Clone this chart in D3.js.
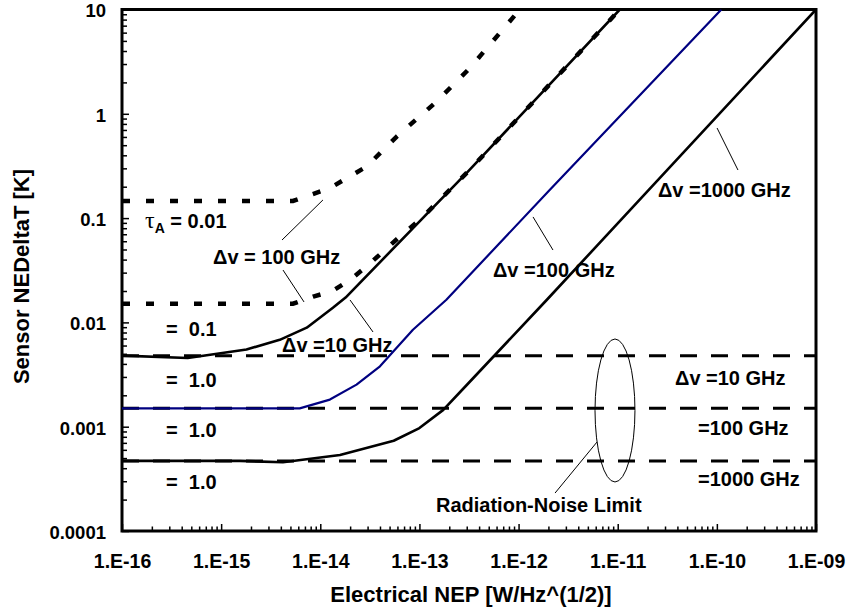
<!DOCTYPE html>
<html>
<head>
<meta charset="utf-8">
<script src="https://cdn.jsdelivr.net/npm/d3@7"></script>
<style>
  body { margin: 0; background: #fff; }
  svg text { font-family: "Liberation Sans", Arial, Helvetica, sans-serif; font-weight: bold; fill: #000; }
</style>
</head>
<body>
<svg id="chart" width="849" height="614"></svg>
<script>
// Electrical NEP sample points [W/Hz^(1/2)] and resulting sensor NEΔT [K]
// Δv = 10 GHz, τA = 1.0
const nep10 = [1e-16, 4.6e-16, 1.8e-15, 3.9e-15, 7.3e-15, 1.34e-14, 1.8e-14, 3.1e-13, 1.05e-11];
const ndt10 = [0.0048, 0.00455, 0.0055, 0.0068, 0.0089, 0.0138, 0.0173, 0.28, 10];
// Δv = 100 GHz, τA = 1.0
const nep100 = [1e-16, 6.2e-15, 1.25e-14, 2.32e-14, 4.0e-14, 8.6e-14, 1.87e-13, 2.07e-12, 1.11e-10];
const ndt100 = [0.0015, 0.0015, 0.00182, 0.00253, 0.00379, 0.0085, 0.0165, 0.187, 10];
// Δv = 1000 GHz, τA = 1.0
const nep1000 = [1e-16, 1.55e-15, 4.2e-15, 1.58e-14, 5.5e-14, 1.0e-13, 1.74e-13, 3.0e-13, 1.92e-12, 1e-9];
const ndt1000 = [0.00047, 0.00047, 0.000456, 0.000535, 0.000734, 0.00097, 0.00145, 0.00251, 0.0164, 10];
// Δv = 100 GHz, τA = 0.01
const nepTau001 = [1e-16, 5.3e-15, 1.25e-14, 2.93e-14, 5.9e-14, 1.49e-13, 3.22e-13, 1.03e-12];
const ndtTau001 = [0.146, 0.146, 0.194, 0.312, 0.605, 1.31, 2.74, 10];
// Δv = 100 GHz, τA = 0.1
const nepTau01 = [1e-16, 5.3e-15, 8.5e-15, 1.3e-14, 2.0e-14, 2.93e-14, 6.1e-14, 1.01e-13, 3.1e-13, 1.05e-11];
const ndtTau01 = [0.0151, 0.0151, 0.0177, 0.0198, 0.0256, 0.0344, 0.0643, 0.0963, 0.28, 10];
// Radiation-noise limits for Δv = 10, 100, 1000 GHz
const radiationLimits = [0.0048, 0.0015, 0.00047];

const xTickValues = [1e-16, 1e-15, 1e-14, 1e-13, 1e-12, 1e-11, 1e-10, 1e-9];
const xTickLabels = ["1.E-16", "1.E-15", "1.E-14", "1.E-13", "1.E-12", "1.E-11", "1.E-10", "1.E-09"];
const yTickValues = [1e-4, 1e-3, 1e-2, 1e-1, 1, 10];
const yTickLabels = ["0.0001", "0.001", "0.01", "0.1", "1", "10"];

const svg = d3.select("#chart");
const plotLeft = 122, plotRight = 816, plotTop = 9.5, plotBottom = 531;

const x = d3.scaleLog().domain([1e-16, 1e-9]).range([plotLeft, plotRight]);
const y = d3.scaleLog().domain([1e-4, 10]).range([plotBottom, plotTop]);
// place things by decade exponents
const px = e => x(Math.pow(10, e));
const py = e => y(Math.pow(10, e));

svg.append("defs").append("clipPath").attr("id", "plotClip")
  .append("rect").attr("x", plotLeft).attr("y", plotTop)
  .attr("width", plotRight - plotLeft).attr("height", plotBottom - plotTop);

// ---- axes ----
const minorX = x.ticks().filter(v => !xTickValues.some(t => Math.abs(t - v) / t < 1e-6));
const minorY = y.ticks().filter(v => !yTickValues.some(t => Math.abs(t - v) / t < 1e-6));

const xMinor = svg.append("g").attr("transform", `translate(0,${plotBottom})`)
  .call(d3.axisBottom(x).tickValues(minorX).tickSize(-4.5).tickFormat(""));
const xMajor = svg.append("g").attr("transform", `translate(0,${plotBottom})`)
  .call(d3.axisBottom(x).tickValues(xTickValues).tickSize(-7).tickPadding(23)
    .tickFormat((d, i) => xTickLabels[i]));
const yMinor = svg.append("g").attr("transform", `translate(${plotLeft},0)`)
  .call(d3.axisLeft(y).tickValues(minorY).tickSize(-5).tickFormat(""));
const yMajor = svg.append("g").attr("transform", `translate(${plotLeft},0)`)
  .call(d3.axisLeft(y).tickValues(yTickValues).tickSize(-7).tickPadding(16)
    .tickFormat((d, i) => yTickLabels[i]));

[xMinor, xMajor, yMinor, yMajor].forEach(g => {
  g.select(".domain").remove();
  g.selectAll(".tick line").attr("stroke", "#000").attr("stroke-width", 1.5);
  g.selectAll(".tick text").attr("fill", "#000");
});
xMajor.selectAll(".tick text").style("font-size", "19.5px");
yMajor.selectAll(".tick text").style("font-size", "18.5px").attr("dy", "0.4em");

// frame
svg.append("rect").attr("x", plotLeft).attr("y", plotTop)
  .attr("width", plotRight - plotLeft).attr("height", plotBottom - plotTop)
  .attr("fill", "none").attr("stroke", "#000").attr("stroke-width", 3);

// axis titles
svg.append("text").attr("x", (plotLeft + plotRight) / 2 + 2).attr("y", 601.7)
  .attr("text-anchor", "middle").style("font-size", "22px")
  .text("Electrical NEP [W/Hz^(1/2)]");
svg.append("text").attr("transform", "translate(29,276.5) rotate(-90)")
  .attr("text-anchor", "middle").style("font-size", "22px")
  .text("Sensor NEDeltaT [K]");

// ---- curves ----
const plot = svg.append("g").attr("clip-path", "url(#plotClip)");
const line = d3.line().x(d => x(d[0])).y(d => y(d[1]));
const zipPts = (a, b) => a.map((v, i) => [v, b[i]]);

// radiation-noise limits
plot.selectAll("path.rad").data(radiationLimits).join("path")
  .attr("class", "rad")
  .attr("d", v => line([[1e-16, v], [1e-9, v]]))
  .attr("fill", "none").attr("stroke", "#000").attr("stroke-width", 3)
  .attr("stroke-dasharray", "17,14");

const solid = [
  { pts: zipPts(nep10, ndt10), color: "#000", w: 2.6 },
  { pts: zipPts(nep100, ndt100), color: "#000080", w: 2.2 },
  { pts: zipPts(nep1000, ndt1000), color: "#000", w: 2.6 }
];
plot.selectAll("path.solid").data(solid).join("path")
  .attr("class", "solid")
  .attr("d", d => line(d.pts))
  .attr("fill", "none").attr("stroke", d => d.color).attr("stroke-width", d => d.w)
  .attr("stroke-linejoin", "round");

const dotted = [zipPts(nepTau001, ndtTau001), zipPts(nepTau01, ndtTau01)];
plot.selectAll("path.dot").data(dotted).join("path")
  .attr("class", "dot")
  .attr("d", d => line(d))
  .attr("fill", "none").attr("stroke", "#000").attr("stroke-width", 4.5)
  .attr("stroke-dasharray", "8,16");

// ---- annotations (anchored by decade exponents of NEP and NEΔT) ----
const notes = [
  { t: "Δv = 100 GHz", at: [-15.082, -1.440] },
  { t: "=  0.1", at: [-15.556, -2.126] },
  { t: "=  1.0", at: [-15.556, -2.617] },
  { t: "=  1.0", at: [-15.556, -3.099] },
  { t: "=  1.0", at: [-15.556, -3.597] },
  { t: "Δv =10 GHz", at: [-14.386, -2.281] },
  { t: "Δv =100 GHz", at: [-12.258, -1.562] },
  { t: "Δv =1000 GHz", at: [-10.594, -0.795] },
  { t: "Δv =10 GHz", at: [-10.422, -2.600] },
  { t: "=100 GHz", at: [-10.190, -3.080] },
  { t: "=1000 GHz", at: [-10.190, -3.569] },
  { t: "Radiation-Noise Limit", at: [-12.833, -3.821] }
];
svg.append("g").selectAll("text").data(notes).join("text")
  .attr("x", d => px(d.at[0])).attr("y", d => py(d.at[1]))
  .style("font-size", "20px").style("white-space", "pre")
  .text(d => d.t);

// τA = 0.01 label
const tau = svg.append("text").attr("x", px(-15.768)).attr("y", py(-1.095))
  .style("font-size", "20px").style("white-space", "pre");
tau.append("tspan").text("τ")
  .style("font-family", "'Liberation Serif', 'Times New Roman', serif")
  .style("font-weight", "normal").style("font-size", "24px");
tau.append("tspan").text("A").attr("dy", 5).style("font-size", "14px");
tau.append("tspan").text(" = 0.01").attr("dy", -5);

// leader lines
const leaders = [
  [[-14.386, -1.210], [-13.973, -0.826]],
  [[-14.376, -1.498], [-14.164, -1.804]],
  [[-13.700, -1.785], [-13.468, -2.092]],
  [[-11.854, -0.989], [-11.653, -1.306]],
  [[-9.998, -0.136], [-9.787, -0.539]],
  [[-11.632, -3.636], [-11.209, -3.147]]
];
svg.append("g").selectAll("line").data(leaders).join("line")
  .attr("x1", d => px(d[0][0])).attr("y1", d => py(d[0][1]))
  .attr("x2", d => px(d[1][0])).attr("y2", d => py(d[1][1]))
  .attr("stroke", "#000").attr("stroke-width", 1);

// ellipse grouping the radiation-noise limits
const ex0 = -11.229, ex1 = -10.826, ey0 = -2.159, ey1 = -3.530;
svg.append("ellipse")
  .attr("cx", (px(ex0) + px(ex1)) / 2).attr("cy", (py(ey0) + py(ey1)) / 2)
  .attr("rx", (px(ex1) - px(ex0)) / 2).attr("ry", (py(ey1) - py(ey0)) / 2)
  .attr("fill", "none").attr("stroke", "#000").attr("stroke-width", 1);
</script>
</body>
</html>
